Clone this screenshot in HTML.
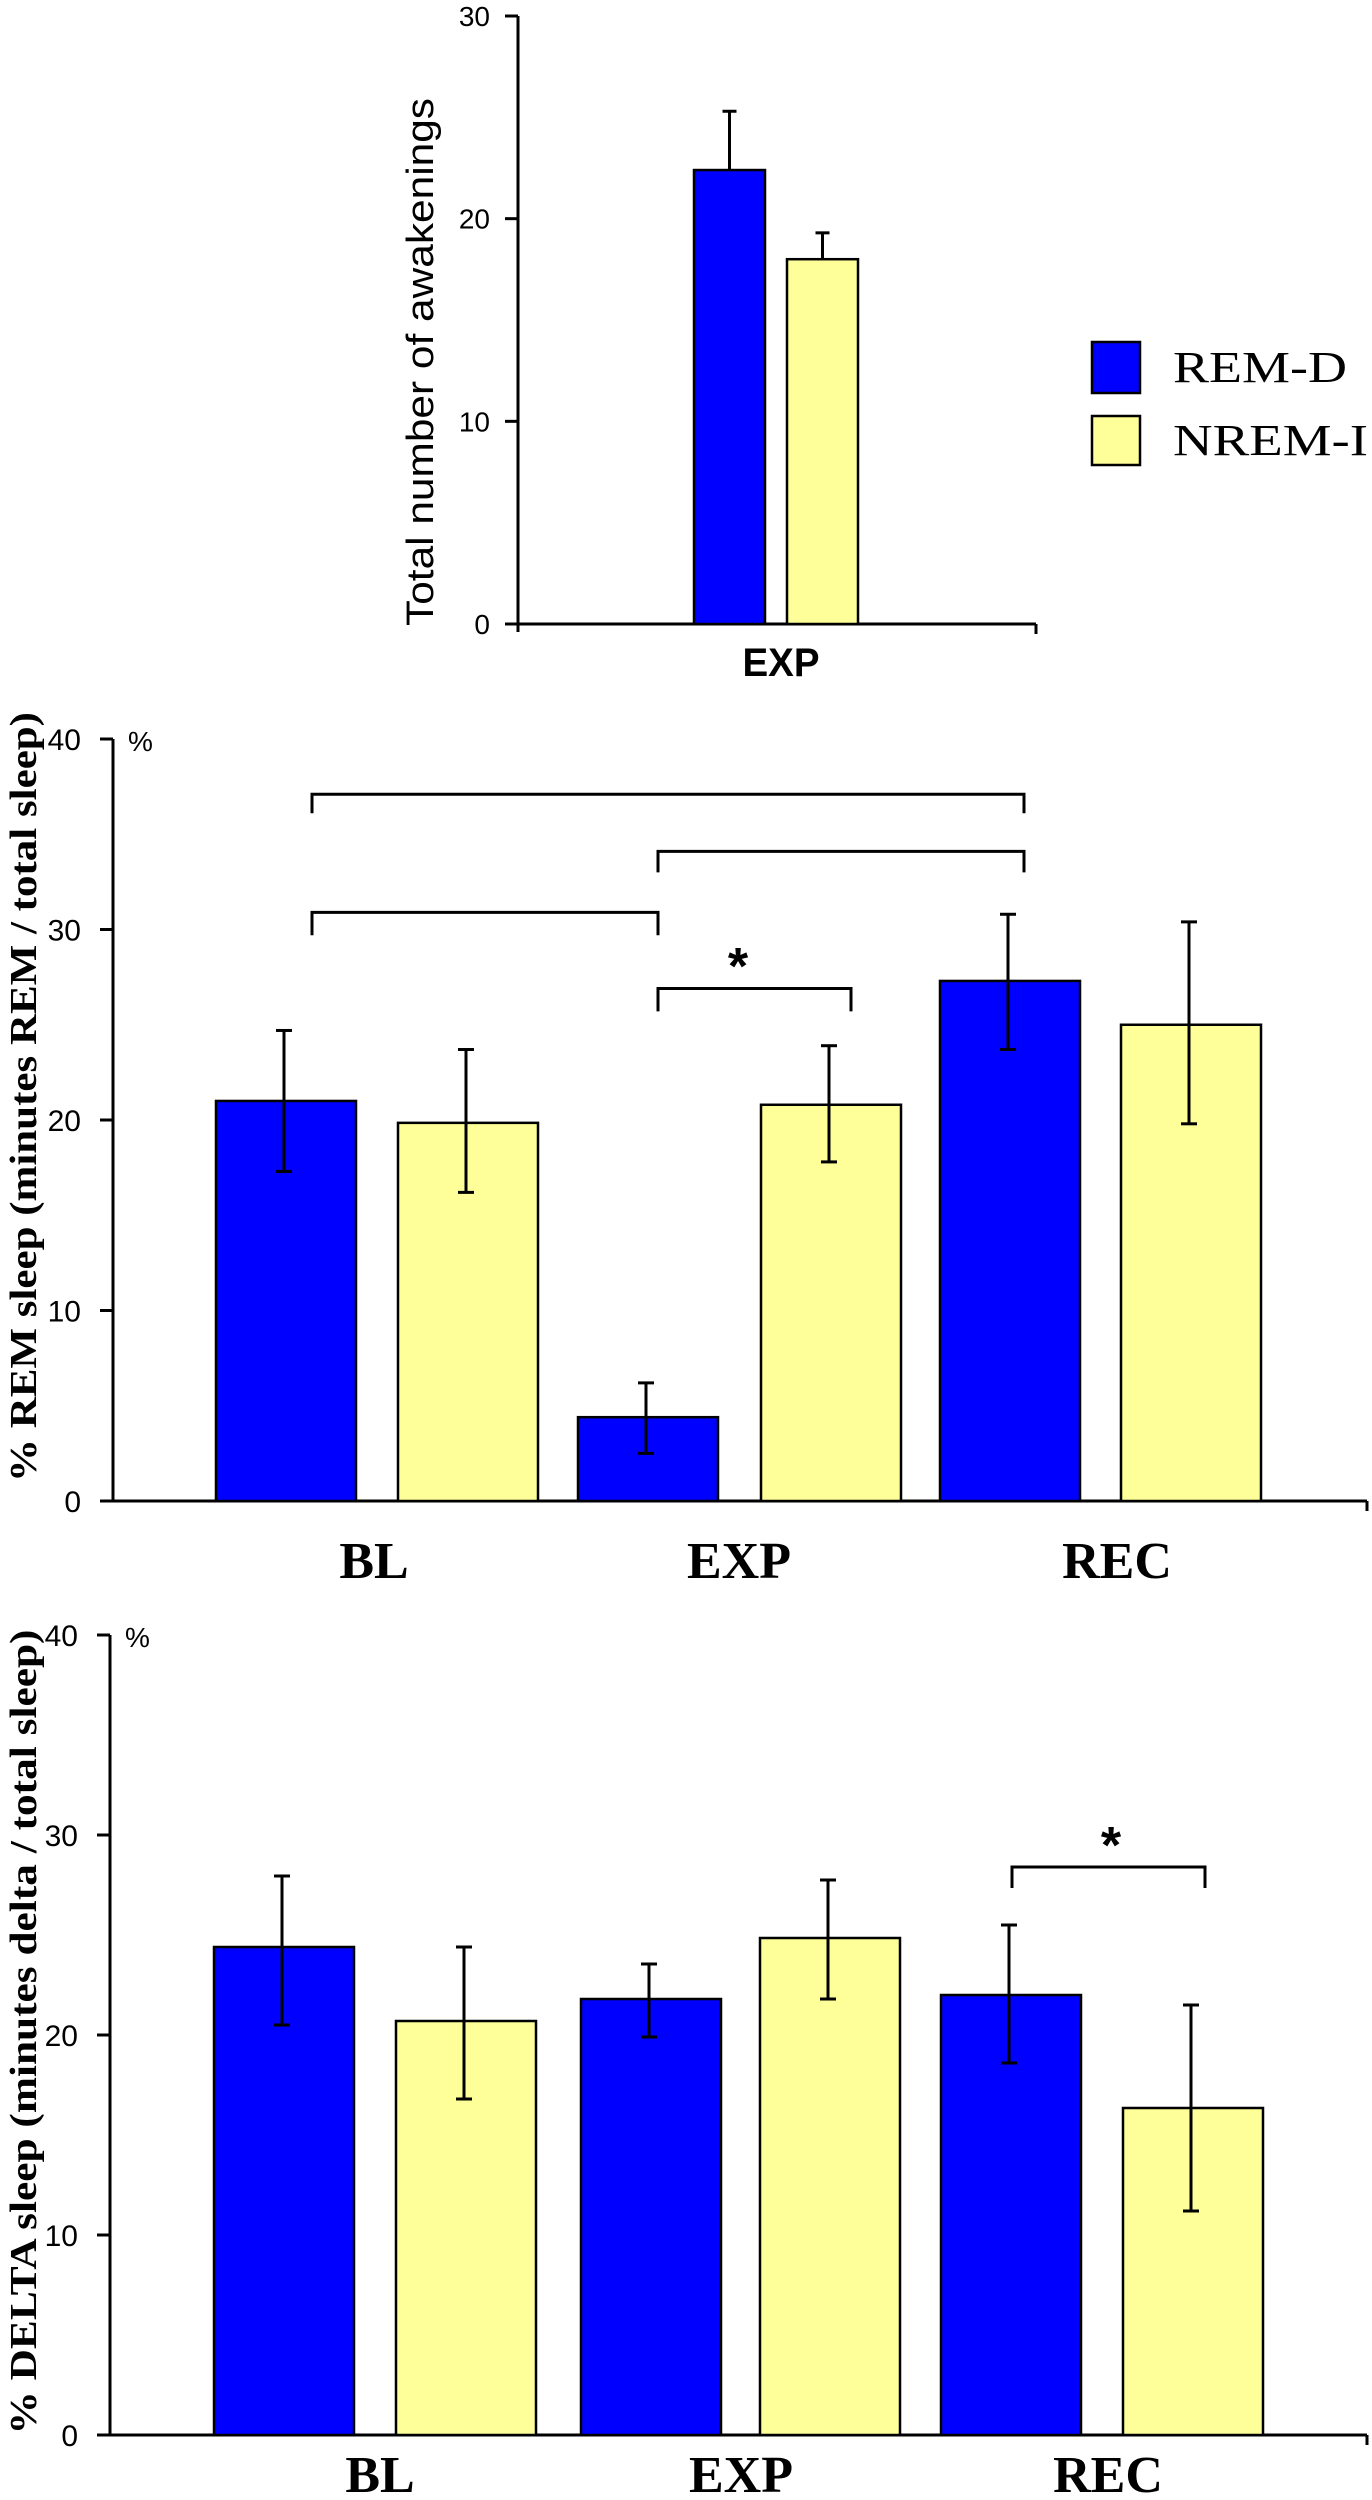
<!DOCTYPE html>
<html><head><meta charset="utf-8"><style>
html,body{margin:0;padding:0;background:#fff}
svg{display:block}
</style></head><body>
<svg id="fig" width="1372" height="2500" viewBox="0 0 1372 2500" xmlns="http://www.w3.org/2000/svg">
<g id="top"></g>
<g id="mid"></g>
<g id="bot"></g>
<g>
  <rect x="1092" y="342" width="48" height="51" fill="#0000ff" stroke="#000" stroke-width="2.5"/>
  <text x="1173" y="382" font-family="Liberation Serif, serif" font-size="44" textLength="174" lengthAdjust="spacingAndGlyphs">REM-D</text>
  <rect x="1092" y="416" width="48" height="49" fill="#ffff99" stroke="#000" stroke-width="2.5"/>
  <text x="1173" y="455" font-family="Liberation Serif, serif" font-size="44" textLength="195" lengthAdjust="spacingAndGlyphs">NREM-I</text>
</g>
</svg>
<script>
// ---- data ----
const topCategories = ["EXP"];
const topRemD = [22.4];
const topRemDErr = [2.9];
const topNremI = [18.0];
const topNremIErr = [1.3];
const topTicks = [0, 10, 20, 30];

const categories = ["BL", "EXP", "REC"];
const remRemD = [21.0, 4.4, 27.3];
const remRemDLo = [17.3, 2.5, 23.7];
const remRemDHi = [24.7, 6.2, 30.8];
const remNremI = [19.85, 20.8, 25.0];
const remNremILo = [16.2, 17.8, 19.8];
const remNremIHi = [23.7, 23.9, 30.4];

const deltaRemD = [24.4, 21.8, 22.0];
const deltaRemDLo = [20.5, 19.9, 18.6];
const deltaRemDHi = [27.95, 23.55, 25.5];
const deltaNremI = [20.7, 24.85, 16.35];
const deltaNremILo = [16.8, 21.8, 11.2];
const deltaNremIHi = [24.4, 27.75, 21.5];
const pctTicks = [0, 10, 20, 30, 40];

const NS = "http://www.w3.org/2000/svg";
function mk(parent, tag, attrs, text){
  const e = document.createElementNS(NS, tag);
  for (const k in attrs) e.setAttribute(k, attrs[k]);
  if (text !== undefined) e.textContent = text;
  parent.appendChild(e);
  return e;
}

// ---- top chart ----
(function(){
  const g = document.getElementById('top');
  const y0 = 624, y30 = 16;
  const ys = v => y0 - (y0 - y30) * v / 30;
  const ax = 518;
  let e;
  e = mk(g,'line',{x1:ax,y1:ys(30),x2:ax,y2:y0+8,stroke:'#000','stroke-width':3});
   
  e = mk(g,'line',{x1:ax,y1:y0,x2:1036,y2:y0,stroke:'#000','stroke-width':3});
   
  e = mk(g,'line',{x1:1036,y1:y0,x2:1036,y2:y0+10,stroke:'#000','stroke-width':3});
   
  topTicks.forEach(t=>{
    e = mk(g,'line',{x1:505,y1:ys(t),x2:ax,y2:ys(t),stroke:'#000','stroke-width':3});
     
    e = mk(g,'text',{x:490,y:ys(t)+10,'text-anchor':'end','font-family':'Liberation Sans, sans-serif','font-size':28},String(t));
     
  });
  e = mk(g,'text',{x:0,y:0,transform:'translate(433,362) rotate(-90)','text-anchor':'middle','font-family':'Liberation Sans, sans-serif','font-size':38,textLength:528,lengthAdjust:'spacingAndGlyphs'},'Total number of awakenings');
   
  topCategories.forEach((c,i)=>{
    const bx = 694, yx = 787, w = 71;
    e = mk(g,'line',{x1:bx+w/2,y1:ys(topRemD[i]),x2:bx+w/2,y2:ys(topRemD[i]+topRemDErr[i]),stroke:'#000','stroke-width':3});
     
    e = mk(g,'line',{x1:bx+w/2-7,y1:ys(topRemD[i]+topRemDErr[i]),x2:bx+w/2+7,y2:ys(topRemD[i]+topRemDErr[i]),stroke:'#000','stroke-width':3});
     
    e = mk(g,'line',{x1:yx+w/2,y1:ys(topNremI[i]),x2:yx+w/2,y2:ys(topNremI[i]+topNremIErr[i]),stroke:'#000','stroke-width':3});
     
    e = mk(g,'line',{x1:yx+w/2-7,y1:ys(topNremI[i]+topNremIErr[i]),x2:yx+w/2+7,y2:ys(topNremI[i]+topNremIErr[i]),stroke:'#000','stroke-width':3});
     
    e = mk(g,'rect',{x:bx,y:ys(topRemD[i]),width:w,height:y0-ys(topRemD[i]),fill:'#0000ff',stroke:'#000','stroke-width':2.5});
     
    e = mk(g,'rect',{x:yx,y:ys(topNremI[i]),width:w,height:y0-ys(topNremI[i]),fill:'#ffff99',stroke:'#000','stroke-width':2.5});
     
    e = mk(g,'text',{x:781,y:676,'text-anchor':'middle','font-family':'Liberation Sans, sans-serif','font-weight':'bold','font-size':40,textLength:77,lengthAdjust:'spacingAndGlyphs'},c);
     
  });
})();

// ---- percent charts ----
function pctChart(g, opt){
  const ys = v => opt.y0 - (opt.y0 - opt.y40) * v / 40;
  const ax = opt.ax;
  let e;
  e = mk(g,'line',{x1:ax,y1:ys(40),x2:ax,y2:opt.y0,stroke:'#000','stroke-width':3});
   
  e = mk(g,'line',{x1:ax,y1:opt.y0,x2:1367,y2:opt.y0,stroke:'#000','stroke-width':3});
   
  e = mk(g,'line',{x1:1367,y1:opt.y0,x2:1367,y2:opt.y0+10,stroke:'#000','stroke-width':3});
   
  pctTicks.forEach(t=>{
    e = mk(g,'line',{x1:ax-13,y1:ys(t),x2:ax,y2:ys(t),stroke:'#000','stroke-width':3});
     
    e = mk(g,'text',{x:ax-32,y:ys(t)+11,'text-anchor':'end','font-family':'Liberation Sans, sans-serif','font-size':30},String(t));
     
  });
  e = mk(g,'text',{x:ax+15,y:ys(40)+12,'font-family':'Liberation Sans, sans-serif','font-size':28},'%');
   
  e = mk(g,'text',{x:0,y:0,transform:'translate(36,'+opt.titleCy+') rotate(-90)','text-anchor':'middle','font-family':'Liberation Serif, serif','font-weight':'bold','font-size':38,textLength:opt.titleLen,lengthAdjust:'spacingAndGlyphs'},opt.title);
   
  const w = 140;
  categories.forEach((c,i)=>{
    const series = [
      {x:opt.blueX[i], v:opt.a[i], lo:opt.aLo[i], hi:opt.aHi[i], fill:'#0000ff', n:'rem-d'},
      {x:opt.yelX[i], v:opt.b[i], lo:opt.bLo[i], hi:opt.bHi[i], fill:'#ffff99', n:'nrem-i'}
    ];
    series.forEach(s=>{
      e = mk(g,'rect',{x:s.x,y:ys(s.v),width:w,height:opt.y0-ys(s.v),fill:s.fill,stroke:'#000','stroke-width':2.5});
       
      const cx = s.x + w/2 - 2;
      e = mk(g,'line',{x1:cx,y1:ys(s.lo),x2:cx,y2:ys(s.hi),stroke:'#000','stroke-width':3});
       
      [s.lo,s.hi].forEach(v=>{
        e = mk(g,'line',{x1:cx-8,y1:ys(v),x2:cx+8,y2:ys(v),stroke:'#000','stroke-width':3});
         
      });
    });
    e = mk(g,'text',{x:opt.labelX[i],y:opt.labelY,'text-anchor':'middle','font-family':'Liberation Serif, serif','font-weight':'bold','font-size':52},c);
     
  });
  opt.brackets.forEach(b=>{
    e = mk(g,'path',{d:'M'+b[0]+' '+ys(b[3])+' V'+ys(b[2])+' H'+b[1]+' V'+ys(b[3]),fill:'none',stroke:'#000','stroke-width':3});
     
  });
  opt.stars.forEach(s=>{
    e = mk(g,'text',{x:s[0],y:ys(s[1])+28,'text-anchor':'middle','font-family':'Liberation Sans, sans-serif','font-weight':'bold','font-size':52},'*');
     
  });
}

pctChart(document.getElementById('mid'), {
  y0:1501, y40:739, ax:113,
  a:remRemD, aLo:remRemDLo, aHi:remRemDHi, b:remNremI, bLo:remNremILo, bHi:remNremIHi,
  blueX:[216,578,940], yelX:[398,761,1121],
  labelX:[374,739,1117], labelY:1578,
  title:'% REM sleep (minutes REM / total sleep)', titleCy:1097, titleLen:770,
  brackets:[[312,1024,37.1,36.1],[658,1024,34.1,33.0],[312,658,30.9,29.7],[658,851,26.9,25.7]],
  stars:[[738,28.6]]
});
pctChart(document.getElementById('bot'), {
  y0:2435, y40:1635, ax:110,
  a:deltaRemD, aLo:deltaRemDLo, aHi:deltaRemDHi, b:deltaNremI, bLo:deltaNremILo, bHi:deltaNremIHi,
  blueX:[214,581,941], yelX:[396,760,1123],
  labelX:[380,741,1108], labelY:2492,
  title:'% DELTA sleep (minutes delta / total sleep)', titleCy:2032, titleLen:805,
  brackets:[[1012,1205,28.4,27.35]],
  stars:[[1111,30.0]]
});
</script>
</body></html>
